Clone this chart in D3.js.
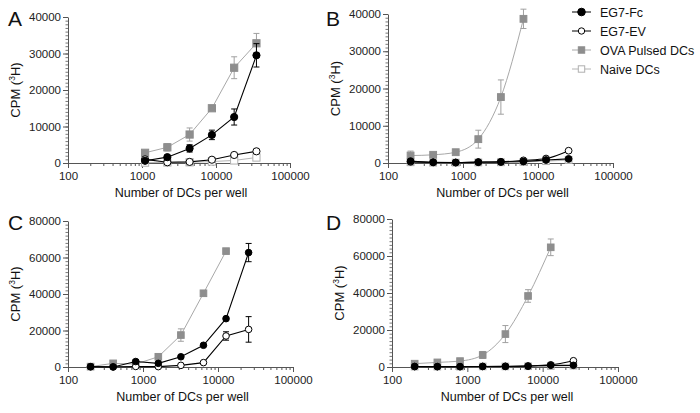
<!DOCTYPE html>
<html><head><meta charset="utf-8">
<script src="https://cdn.jsdelivr.net/npm/d3@7"></script>
<style>body{margin:0;background:#fff}svg{display:block}text{font-family:"Liberation Sans",Arial,sans-serif}</style>
</head><body><svg id="c" width="700" height="413"></svg>
<script>
// ---- data ----
const seriesNames = ["EG7-Fc", "EG7-EV", "OVA Pulsed DCs", "Naive DCs"];
const xTickLabels = ["100", "1000", "10000", "100000"];
const yTicksAB = [0, 10000, 20000, 30000, 40000];
const yTicksCD = [0, 20000, 40000, 60000, 80000];

const cellsA = [1100, 2200, 4400, 8800, 17600, 35200];
const fcA = [600, 1600, 4000, 7700, 12600, 29500];
const fcAErr = [300, 500, 1000, 1300, 2200, 3200];
const evA = [1000, 200, 300, 900, 2200, 3200];
const evAErr = [200, 200, 200, 300, 300, 400];
const ovaA = [2800, 4300, 7800, 15000, 26100, 32800];
const ovaAErr = [500, 1000, 1800, 600, 3000, 2700];
const naiveA = [100, 150, 200, 400, 700, 1500];
const naiveAErr = [0, 0, 0, 0, 200, 300];

const cellsB = [200, 400, 800, 1600, 3200, 6400, 12800, 25600];
const fcB = [500, 200, 150, 250, 300, 400, 800, 1100];
const fcBErr = [0, 0, 0, 0, 0, 0, 0, 0];
const evB = [300, 150, 100, 200, 300, 700, 1200, 3300];
const evBErr = [0, 0, 0, 0, 0, 0, 0, 0];
const ovaB = [2000, 2200, 2900, 6400, 17700, 38700];
const ovaBErr = [1200, 400, 400, 2400, 4600, 2600];
const naiveB = [200, 100, 100, 150, 200, 300, 500, 800];

const cellsC = [200, 400, 800, 1600, 3200, 6400, 12800, 25600];
const fcC = [200, 0, 3000, 2000, 5600, 11900, 26500, 62700];
const fcCErr = [0, 0, 1000, 0, 0, 0, 0, 5000];
const evC = [100, 100, 300, 200, 900, 2400, 17000, 20600];
const evCErr = [0, 0, 0, 0, 0, 0, 2300, 7000];
const ovaC = [200, 2000, 1600, 5600, 17500, 40400, 63500];
const ovaCErr = [300, 500, 500, 800, 3400, 1000, 800];

const cellsD = [200, 400, 800, 1600, 3200, 6400, 12800, 25600];
const fcD = [300, 200, 200, 300, 300, 400, 900, 900];
const evD = [200, 200, 200, 300, 400, 600, 1200, 3400];
const ovaD = [1800, 2500, 3200, 6500, 17800, 38400, 64700];
const ovaDErr = [400, 400, 500, 1900, 4600, 3400, 4500];
const naiveD = [200, 200, 200, 300, 300, 400, 500, 700];

// ---- styles ----
const sty = {
  fc:    {line:"#000", fill:"#000", stroke:"#000", shape:"circle"},
  ev:    {line:"#000", fill:"#fff", stroke:"#000", shape:"circle"},
  ova:   {line:"#a8a8a8", fill:"#8e8e8e", stroke:"#8e8e8e", shape:"square"},
  naive: {line:"#b4b4b4", fill:"#fff", stroke:"#b0b0b0", shape:"square"}
};

const svg = d3.select("#c");

function panel(cfg){
  const g = svg.append("g");
  const x = d3.scaleLog().domain([100, 100000]).range([cfg.x0, cfg.x1]);
  const y = d3.scaleLinear().domain([0, cfg.ymax]).range([cfg.y0, cfg.y1]);
  // x axis
  const minor = [];
  for (let d = 100; d < 100000; d *= 10) for (let k = 2; k <= 9; k++) minor.push(d*k);
  g.append("g").attr("transform", `translate(0,${cfg.y0})`)
    .call(d3.axisBottom(x).tickValues(minor).tickSize(3).tickFormat(""))
    .call(a => a.select(".domain").remove())
    .selectAll("line").attr("stroke", "#555");
  const xa = g.append("g").attr("transform", `translate(0,${cfg.y0})`)
    .call(d3.axisBottom(x).tickValues(xTickLabels.map(Number)).tickSize(5).tickPadding(4)
      .tickFormat((d,i) => xTickLabels[i]).tickSizeOuter(0));
  xa.select(".domain").attr("stroke", "#555");
  xa.selectAll("line").attr("stroke", "#555");
  xa.selectAll("text").attr("font-size", 11.5).attr("fill", "#222");
  // y axis
  const ymin = d3.range(0, cfg.ymax + 1, cfg.ymax / 40);
  g.append("g").attr("transform", `translate(${cfg.x0},0)`)
    .call(d3.axisLeft(y).tickValues(ymin).tickSize(2.5).tickFormat(""))
    .call(a => a.select(".domain").remove())
    .selectAll("line").attr("stroke", "#777");
  const ya = g.append("g").attr("transform", `translate(${cfg.x0},0)`)
    .call(d3.axisLeft(y).tickValues(cfg.yticks).tickSize(5).tickPadding(2).tickFormat(d3.format("d")).tickSizeOuter(0));
  ya.select(".domain").attr("stroke", "#555");
  ya.selectAll("line").attr("stroke", "#555");
  ya.selectAll("text").attr("font-size", 11.5).attr("fill", "#222");
  // labels
  g.append("text").attr("x", (cfg.x0 + cfg.x1) / 2 + 2).attr("y", cfg.y0 + 34)
    .attr("text-anchor", "middle").attr("font-size", 12.5).attr("fill", "#111").text("Number of DCs per well");
  const yl = g.append("text").attr("transform", `translate(${cfg.x0 - 48},${(cfg.y0 + cfg.y1) / 2}) rotate(-90)`)
    .attr("text-anchor", "middle").attr("font-size", 13).attr("fill", "#111");
  yl.append("tspan").text("CPM (");
  yl.append("tspan").attr("font-size", 8.5).attr("dy", -5).text("3");
  yl.append("tspan").attr("dy", 5).text("H)");
  g.append("text").attr("x", cfg.lx).attr("y", cfg.ly).attr("font-size", 21).attr("fill", "#111").text(cfg.letter);

  // series
  cfg.series.forEach(s => {
    const st = sty[s.key];
    const pts = s.vals.map((v, i) => ({x: cfg.cells[i], y: v, e: s.err ? s.err[i] : 0}));
    const line = d3.line().x(d => x(d.x)).y(d => y(Math.max(0, d.y))).curve(cfg.curve || d3.curveLinear);
    g.append("path").datum(pts).attr("d", line).attr("fill", "none")
      .attr("stroke", st.line).attr("stroke-width", s.key === "fc" || s.key === "ev" ? 1.1 : 1);
    const eb = g.append("g").attr("stroke", s.key === "ova" || s.key === "naive" ? "#a0a0a0" : "#000").attr("stroke-width", 1);
    pts.filter(d => d.e > 0).forEach(d => {
      const cx = x(d.x);
      eb.append("line").attr("x1", cx).attr("x2", cx).attr("y1", y(d.y + d.e)).attr("y2", y(Math.max(0, d.y - d.e)));
      eb.append("line").attr("x1", cx - 3).attr("x2", cx + 3).attr("y1", y(d.y + d.e)).attr("y2", y(d.y + d.e));
      eb.append("line").attr("x1", cx - 3).attr("x2", cx + 3).attr("y1", y(Math.max(0, d.y - d.e))).attr("y2", y(Math.max(0, d.y - d.e)));
    });
    const r = cfg.r;
    pts.forEach(d => {
      const cx = x(d.x), cy = y(Math.max(0, d.y));
      if (st.shape === "circle") {
        g.append("circle").attr("cx", cx).attr("cy", cy).attr("r", r)
          .attr("fill", st.fill).attr("stroke", st.stroke).attr("stroke-width", 1);
      } else {
        g.append("rect").attr("x", cx - r).attr("y", cy - r).attr("width", 2 * r).attr("height", 2 * r)
          .attr("fill", st.fill).attr("stroke", st.stroke).attr("stroke-width", 1);
      }
    });
  });
}

panel({letter:"A", lx:8, ly:26, x0:68, x1:290, y0:163, y1:17, ymax:40000, yticks:yTicksAB, r:3.6, cells:cellsA,
  series:[{key:"naive", vals:naiveA, err:naiveAErr}, {key:"ova", vals:ovaA, err:ovaAErr},
          {key:"ev", vals:evA, err:evAErr}, {key:"fc", vals:fcA, err:fcAErr}]});
panel({letter:"B", lx:326, ly:26, x0:388, x1:613, y0:163, y1:14, ymax:40000, yticks:yTicksAB, r:3.4, cells:cellsB, curve:d3.curveMonotoneX,
  series:[{key:"naive", vals:naiveB}, {key:"ova", vals:ovaB, err:ovaBErr},
          {key:"ev", vals:evB, err:evBErr}, {key:"fc", vals:fcB, err:fcBErr}]});
panel({letter:"C", lx:8, ly:230, x0:68, x1:293, y0:367, y1:221, ymax:80000, yticks:yTicksCD, r:3.3, cells:cellsC,
  series:[{key:"ova", vals:ovaC, err:ovaCErr}, {key:"ev", vals:evC, err:evCErr}, {key:"fc", vals:fcC, err:fcCErr}]});
panel({letter:"D", lx:326, ly:230, x0:392, x1:618, y0:367, y1:219, ymax:80000, yticks:yTicksCD, r:3.3, cells:cellsD, curve:d3.curveMonotoneX,
  series:[{key:"naive", vals:naiveD}, {key:"ova", vals:ovaD, err:ovaDErr}, {key:"ev", vals:evD}, {key:"fc", vals:fcD}]});

// legend
const keys = ["fc", "ev", "ova", "naive"];
const lg = svg.append("g");
keys.forEach((k, i) => {
  const st = sty[k];
  const cy = 12 + i * 19, cx = 581.5;
  lg.append("line").attr("x1", 572).attr("x2", 591).attr("y1", cy).attr("y2", cy).attr("stroke", st.line).attr("stroke-width", 1);
  if (st.shape === "circle") lg.append("circle").attr("cx", cx).attr("cy", cy).attr("r", k === "fc" ? 3.8 : 3.2)
    .attr("fill", st.fill).attr("stroke", st.stroke);
  else lg.append("rect").attr("x", cx - 3.2).attr("y", cy - 3.2).attr("width", 6.4).attr("height", 6.4)
    .attr("fill", st.fill).attr("stroke", st.stroke);
  lg.append("text").attr("x", 600).attr("y", cy + 4.5).attr("font-size", 12.5).attr("fill", "#111").text(seriesNames[i]);
});
</script></body></html>
